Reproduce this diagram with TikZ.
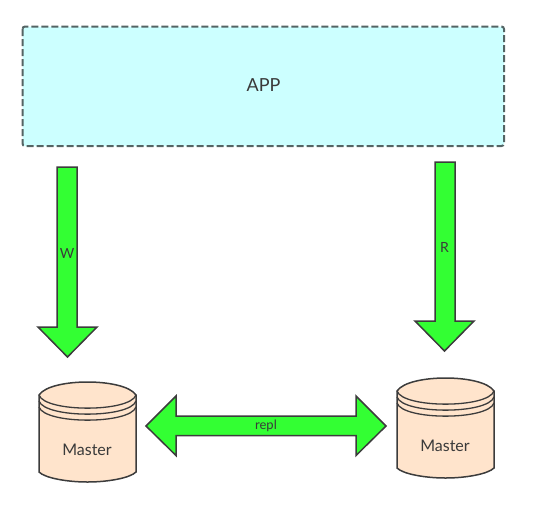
\documentclass[tikz,border=0pt]{standalone}
\usepackage{fontspec}
\setmainfont{Lato}
\definecolor{appfill}{HTML}{CCFFFF}
\definecolor{appline}{HTML}{546464}
\definecolor{arrowfill}{HTML}{33FF33}
\definecolor{dbfill}{HTML}{FFE4CC}
\definecolor{inkline}{HTML}{3C3C3C}
\definecolor{inktext}{HTML}{3A3A3A}
\newcommand{\dbstack}[3]{%
	% #1 left, #2 top, #3 name
	\begin{scope}[shift={(#1,#2)}]
		\draw[dbbody] (0,13) .. controls (6,4) and (28,0) .. (48.5,0) .. controls (69,0) and (91,4) .. (97,13)
			-- (97,90) .. controls (91,96) and (69,100) .. (48.5,100) .. controls (28,100) and (6,96) .. (0,90) -- cycle;
		\draw[dbring] (0,13) .. controls (6,30.5) and (91,30.5) .. (97,13);
		\draw[dbring] (0,19) .. controls (6,36.5) and (91,36.5) .. (97,19);
		\draw[dbring] (0,25) .. controls (6,42.5) and (91,42.5) .. (97,25);
		\node[lbl, font=\fontsize{16}{18}\selectfont] (#3) at (48,67.5) {Master};
	\end{scope}
}
\tikzset{
	lbl/.style={text=inktext, inner sep=0pt},
	dbbody/.style={fill=dbfill, draw=inkline, line width=1.5pt},
	dbring/.style={draw=inkline, line width=1.3pt},
	fatarrow/.style={fill=arrowfill, draw=inkline, line width=1.5pt, line join=miter}
}
\begin{document}
\begin{tikzpicture}[x=1pt, y=-1pt]
	\useasboundingbox (0,0) rectangle (535,507);

	\draw[fill=appfill, draw=appline, line width=2pt, dash pattern=on 7pt off 3pt, rounded corners=2.5pt] (22.5,26.5) rectangle (504,146);
	\node[lbl, font=\fontsize{18}{20}\selectfont] (app) at (263.5,85) {APP};

	\draw[fatarrow] (57,167) -- (77,167) -- (77,327) -- (97,327) -- (67.5,357) -- (38,327) -- (57,327) -- cycle;
	\node[lbl, font=\fontsize{14}{16}\selectfont] (w) at (67,253) {W};

	\draw[fatarrow] (435,162) -- (455,162) -- (455,321) -- (474,321) -- (444.5,351) -- (415,321) -- (435,321) -- cycle;
	\node[lbl, font=\fontsize{14}{16}\selectfont] (r) at (444.5,247) {R};

	\draw[fatarrow] (146,426) -- (176,396) -- (176,416) -- (356,416) -- (356,396) -- (386,426) -- (356,455.5) -- (356,435.5) -- (176,435.5) -- (176,455.5) -- cycle;
	\node[lbl, font=\fontsize{13}{15}\selectfont] (repl) at (266,426) {repl};

	\dbstack{39}{382}{masterL}
	\dbstack{397}{378}{masterR}
\end{tikzpicture}
\end{document}
